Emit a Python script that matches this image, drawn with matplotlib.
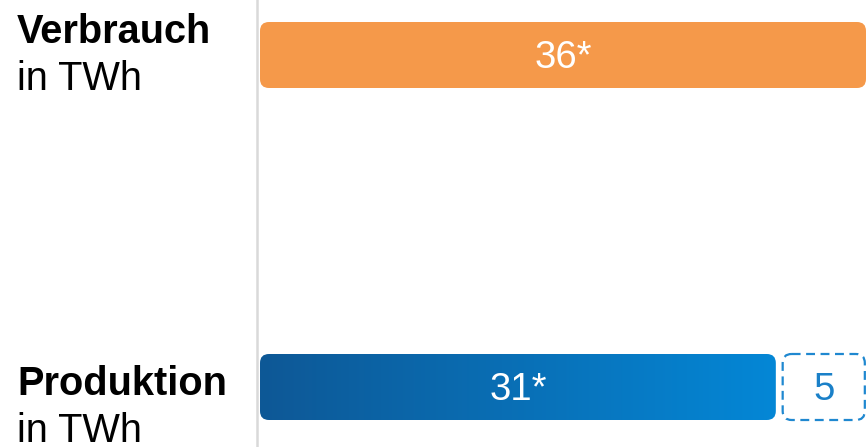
import numpy as np
import matplotlib
matplotlib.use("Agg")
import matplotlib.pyplot as plt
from matplotlib.patches import FancyBboxPatch

plt.rcParams['font.family'] = ['Liberation Sans', 'DejaVu Sans']

# data
categories = ["Verbrauch", "Produktion"]
units = ["in TWh", "in TWh"]
verbrauch = 36
produktion = 31
produktion_extra = 5
bar_labels = ["36*", "31*", "5"]

# colours
orange = "#f5994a"
blue_dark = "#0e5896"
blue_light = "#0487d6"
dash_blue = "#1f88d0"

W, H = 866, 447
fig = plt.figure(figsize=(W / 100, H / 100), dpi=100)
ax = fig.add_axes([0, 0, 1, 1])

# pixel scale: bars start at x=260px, 36 units reach the right edge
px_per_unit = (866 - 260) / 36
x_left = -260 / px_per_unit
ax.set_xlim(x_left, 36)
# categories at 55px and 387px from top
px_per_cat = 387 - 55
ax.set_ylim(1 + (H - 387) / px_per_cat, -55 / px_per_cat)
ax.axis("off")

bar_h = 66 / px_per_cat
r_x = 9 / px_per_unit
aspect = (1 / px_per_cat) / (1 / px_per_unit)
gap = 6 / px_per_unit
txt_off = 12.5 / px_per_cat  # baseline below bar centre

def rbox(x0, w, y, **kw):
    p = FancyBboxPatch((x0, y - bar_h / 2), w, bar_h,
                       boxstyle=f"round,pad=0,rounding_size={r_x}",
                       mutation_aspect=aspect, **kw)
    ax.add_patch(p)
    return p

# vertical separator
ax.axvline(-3 / px_per_unit, color="#d9d9d9", lw=1.8, zorder=0)

# Verbrauch bar
rbox(0, verbrauch, 0, facecolor=orange, edgecolor="none")
ax.text(verbrauch / 2, 0 + txt_off, bar_labels[0], color="white", fontsize=27.5,
        ha="center", va="baseline")

# Produktion bar with gradient
p = rbox(0, produktion - gap, 1, facecolor="none", edgecolor="none")
grad = np.linspace(0, 1, 256).reshape(1, -1)
cmap = matplotlib.colors.LinearSegmentedColormap.from_list("b", [blue_dark, blue_light])
im = ax.imshow(grad, cmap=cmap, aspect="auto",
               extent=[0, produktion - gap, 1 + bar_h / 2, 1 - bar_h / 2], zorder=1)
im.set_clip_path(p)
ax.text((produktion - gap) / 2, 1 + txt_off, bar_labels[1], color="white", fontsize=27.5,
        ha="center", va="baseline", zorder=3)

# dashed remainder
rbox(produktion + 0.05, produktion_extra - 0.12, 1, facecolor="white",
     edgecolor=dash_blue, lw=1.6, linestyle=(0, (4, 2.5)), zorder=2)
ax.text(produktion + produktion_extra / 2, 1 + txt_off, bar_labels[2], color="#1a80c8",
        fontsize=27.5, ha="center", va="baseline", zorder=3)

# left labels
label_pos = [(43, 90), (395, 442)]
for cat, unit, (b1, b2) in zip(categories, units, label_pos):
    fig.text(17 / W, 1 - b1 / H, cat, fontsize=28.6, fontweight="bold",
             ha="left", va="baseline")
    fig.text(17 / W, 1 - b2 / H, unit, fontsize=28.6, ha="left", va="baseline")

fig.savefig("out.png", dpi=100)
